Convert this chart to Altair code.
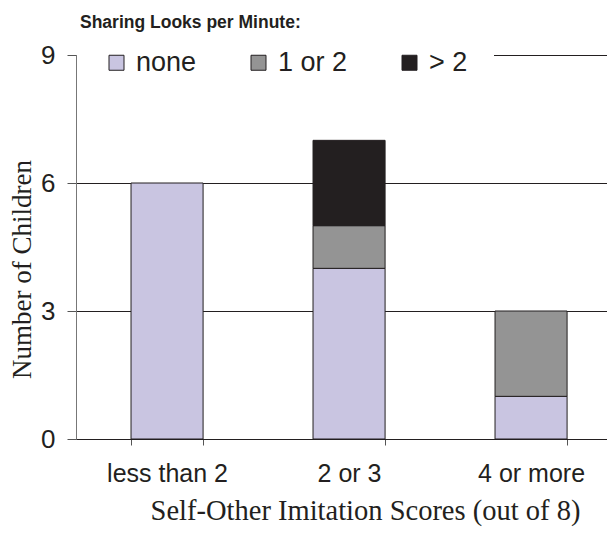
import altair as alt
import pandas as pd

categories = ["less than 2", "2 or 3", "4 or more"]
series = ["none", "1 or 2", "> 2"]
none_vals = [6, 4, 1]
one_two_vals = [0, 1, 2]
over_two_vals = [0, 2, 0]
y_ticks = [0, 3, 6, 9]
colors = ["#c9c5e1", "#949494", "#231f20"]

rows = []
for s_i, (s, vals) in enumerate(zip(series, [none_vals, one_two_vals, over_two_vals])):
    for c, v in zip(categories, vals):
        rows.append({"category": c, "series": s, "order": s_i, "value": v})
df = pd.DataFrame(rows)

SANS = "Liberation Sans"
SERIF = "Liberation Serif"
INK = "#231f20"

chart = alt.Chart(df).transform_filter("datum.value > 0").mark_bar(
    stroke=INK, strokeWidth=1
).encode(
    x=alt.X("category:N", sort=categories,
            scale=alt.Scale(paddingInner=0.604, paddingOuter=0.2608, align=0.5796),
            axis=alt.Axis(title="Self-Other Imitation Scores (out of 8)", labelAngle=0,
                          tickBand="extent", ticks=True, tickSize=6, tickColor="#555",
                          domainColor=INK, labelFont=SANS, labelFontSize=25,
                          labelColor=INK, labelPadding=16, titleFont=SERIF,
                          titleFontSize=28.5, titleFontWeight="normal", titleColor=INK,
                          titlePadding=10, titleX=289)),
    y=alt.Y("value:Q", stack="zero",
            scale=alt.Scale(domain=[0, 9], nice=False),
            axis=alt.Axis(values=y_ticks, title="Number of Children", grid=True,
                          gridColor=INK, gridWidth=1, tickSize=9, tickColor="#555",
                          domainColor="#777", labelFont=SANS, labelFontSize=26,
                          labelColor=INK, labelPadding=12, titleFont=SERIF,
                          titleFontSize=27, titleFontWeight="normal", titleColor=INK,
                          titlePadding=4, titleY=214)),
    color=alt.Color("series:N", sort=series,
                    scale=alt.Scale(domain=series, range=colors),
                    legend=alt.Legend(title=None, orient="none", direction="horizontal",
                                      legendX=1, legendY=-32, padding=26,
                                      fillColor="white", symbolType="square",
                                      symbolSize=225, symbolStrokeColor=INK,
                                      symbolStrokeWidth=1, labelFont=SANS,
                                      labelFontSize=27, labelColor=INK, labelOffset=6,
                                      columnPadding=48)),
    order=alt.Order("order:Q", sort="ascending"),
).properties(
    width=531, height=384,
    title=alt.TitleParams("Sharing Looks per Minute:", anchor="start", font=SANS,
                          fontSize=17.5, fontWeight="bold", color=INK, dx=4, offset=0,
                          dy=8, frame="group"),
    autosize=alt.AutoSizeParams(type="none"),
    padding={"left": 68, "top": 47, "right": 0, "bottom": 88},
).configure_view(stroke=None)

chart.save("out.html", embed_options={"renderer": "svg", "actions": False})
